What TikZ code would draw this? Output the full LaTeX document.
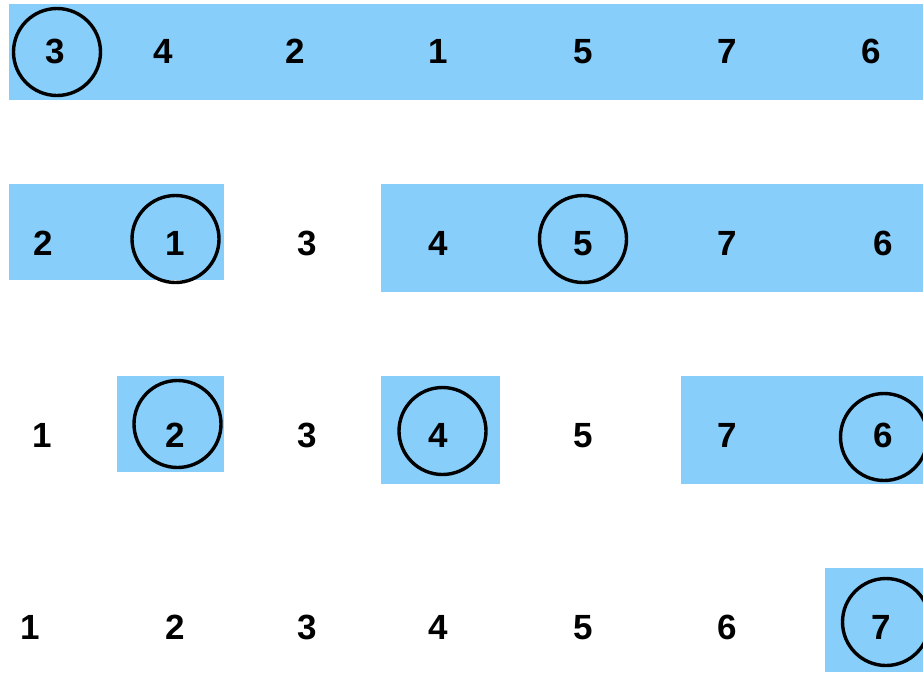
\documentclass[tikz,border=0pt]{standalone}
\usepackage{fontspec}
\setmainfont{Liberation Sans}
\definecolor{seg}{HTML}{87CEFA}
\begin{document}
\begin{tikzpicture}[x=1pt,y=-1pt,
  num/.style={font=\fontsize{35}{40}\selectfont\bfseries, inner sep=0pt, anchor=base, yshift=-12.5pt},
  ring/.style={circle, draw=black, line width=3.4pt, minimum size=87pt, inner sep=0pt}]
\useasboundingbox (0,0) rectangle (923,673);
% segments
\fill[seg] (9,4) rectangle (923,100);
\fill[seg] (9,184) rectangle (224,280);
\fill[seg] (381,184) rectangle (923,292);
\fill[seg] (117,376) rectangle (224,472);
\fill[seg] (381,376) rectangle (500,484);
\fill[seg] (681,376) rectangle (923,484);
\fill[seg] (825,568) rectangle (923,672);
% row 1
\node[num] (a3) at (55,51) {3};
\node[num] (a4) at (163,51) {4};
\node[num] (a2) at (295,51) {2};
\node[num] (a1) at (438,51) {1};
\node[num] (a5) at (583,51) {5};
\node[num] (a7) at (727,51) {7};
\node[num] (a6) at (871,51) {6};
\node[ring] (ca3) at (57,52) {};
% row 2
\node[num] (b2) at (43,243) {2};
\node[num] (b1) at (175,243) {1};
\node[num] (b3) at (307,243) {3};
\node[num] (b4) at (438,243) {4};
\node[num] (b5) at (583,243) {5};
\node[num] (b7) at (727,243) {7};
\node[num] (b6) at (883,243) {6};
\node[ring] (cb1) at (175.5,239) {};
\node[ring] (cb5) at (583,239) {};
% row 3
\node[num] (c1) at (42,435) {1};
\node[num] (c2) at (175.5,435) {2};
\node[num] (c3) at (307,435) {3};
\node[num] (c4) at (438,435) {4};
\node[num] (c5) at (583,435) {5};
\node[num] (c7) at (727,435) {7};
\node[num] (c6) at (883,435) {6};
\node[ring] (cc2) at (177.5,424) {};
\node[ring] (cc4) at (442.5,431) {};
\node[ring] (cc6) at (884,437) {};
% row 4
\node[num] (d1) at (30,627) {1};
\node[num] (d2) at (175,627) {2};
\node[num] (d3) at (307,627) {3};
\node[num] (d4) at (438,627) {4};
\node[num] (d5) at (583,627) {5};
\node[num] (d6) at (727,627) {6};
\node[num] (d7) at (881,627) {7};
\node[ring] (cd7) at (886,622) {};
\end{tikzpicture}
\end{document}
